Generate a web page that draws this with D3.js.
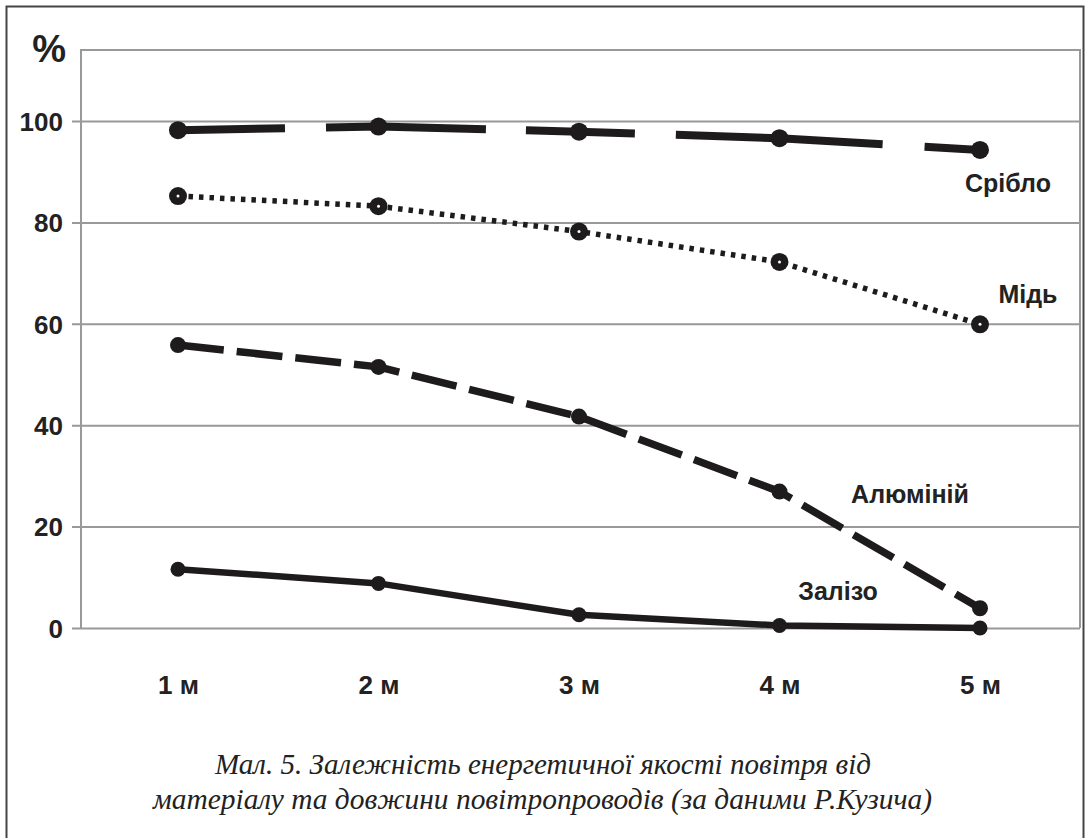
<!DOCTYPE html>
<html>
<head>
<meta charset="utf-8">
<script src="https://cdn.jsdelivr.net/npm/d3@7"></script>
<style>
  html, body { margin: 0; padding: 0; background: #fff; }
  svg { display: block; }
</style>
</head>
<body>
<svg id="chart" width="1086" height="838"></svg>
<script>
// ---- data ----
const categories = ["1 м", "2 м", "3 м", "4 м", "5 м"];
const yTicks = [0, 20, 40, 60, 80, 100];
const seriesNames = ["Срібло", "Мідь", "Алюміній", "Залізо"];
const silver = [98.2, 98.9, 97.9, 96.6, 94.3];
const copper = [85.2, 83.2, 78.2, 72.2, 59.9];
const aluminium = [55.8, 51.5, 41.7, 26.9, 3.9];
const iron = [11.6, 8.8, 2.6, 0.5, 0.0];
const yUnit = "%";
const captionLines = [
  "Мал. 5. Залежність енергетичної якості повітря від",
  "матеріалу та довжини повітропроводів (за даними Р.Кузича)"
];

// ---- layout ----
const svg = d3.select("#chart");
const plot = { left: 81, right: 1080, top: 50, bottom: 628 };
const bold = "'Liberation Sans', Arial, sans-serif";

const x = d3.scalePoint().domain(categories).range([178, 980]);
const y = d3.scaleLinear().domain([0, 100]).range([628, 121]);

// outer frame
svg.append("rect").attr("x", 6.5).attr("y", 6.5).attr("width", 1077).attr("height", 840)
  .attr("fill", "none").attr("stroke", "#444").attr("stroke-width", 2);

// plot frame (top, left, right)
svg.append("path")
  .attr("d", `M${plot.left},${plot.bottom} V${plot.top} H${plot.right} V${plot.bottom}`)
  .attr("fill", "none").attr("stroke", "#999").attr("stroke-width", 2);

// y axis grid + labels
const yAxis = d3.axisLeft(y).tickValues(yTicks)
  .tickSize(-(plot.right - 72)).tickPadding(10).tickFormat(d3.format("d"));
const gy = svg.append("g").attr("transform", `translate(72,0)`).call(yAxis);
gy.select(".domain").remove();
gy.selectAll(".tick line").attr("stroke", "#999").attr("stroke-width", 2);
gy.selectAll(".tick text")
  .attr("x", 63 - 72).attr("dy", "0.36em")
  .attr("fill", "#222").style("font-family", bold).style("font-weight", "bold").style("font-size", "26px");

svg.append("text").attr("x", 66).attr("y", 62).attr("text-anchor", "end")
  .style("font-family", bold).style("font-weight", "bold").style("font-size", "38px")
  .attr("fill", "#222").text(yUnit);

// x axis labels
const xAxis = d3.axisBottom(x).tickSize(0).tickPadding(0);
const gx = svg.append("g").attr("transform", `translate(0,676)`).call(xAxis);
gx.select(".domain").remove();
gx.selectAll(".tick text").attr("dy", "0.71em")
  .attr("fill", "#222").style("font-family", bold).style("font-weight", "bold").style("font-size", "26px");

// series
const series = [
  { name: seriesNames[0], values: silver, width: 8, dash: "107,41,160,40,109,41,207,42,200",
    hollow: false, r: 9, label: [1008, 192] },
  { name: seriesNames[1], values: copper, width: 5.5, dash: "4.5,6", hollow: true, r: 9,
    label: [1028, 303] },
  { name: seriesNames[2], values: aluminium, width: 7.5, dash: "46,13", hollow: false, r: 8,
    label: [910, 503] },
  { name: seriesNames[3], values: iron, width: 6.5, dash: null, hollow: false, r: 7.5,
    label: [838, 600] }
];

const line = d3.line().x((d, i) => x(categories[i])).y(d => y(d));

series.forEach(s => {
  const p = svg.append("path").datum(s.values)
    .attr("d", line).attr("fill", "none").attr("stroke", "#1e1b1c")
    .attr("stroke-width", s.width).attr("stroke-linecap", s.dash ? "butt" : "round")
    .attr("stroke-linejoin", "round");
  if (s.dash) p.attr("stroke-dasharray", s.dash);

  const g = svg.append("g");
  g.selectAll("circle.m").data(s.values).join("circle").attr("class", "m")
    .attr("cx", (d, i) => x(categories[i])).attr("cy", d => y(d))
    .attr("r", s.r).attr("fill", "#1e1b1c");
  if (s.hollow) {
    g.selectAll("circle.h").data(s.values).join("circle").attr("class", "h")
      .attr("cx", (d, i) => x(categories[i])).attr("cy", d => y(d))
      .attr("r", 1.5).attr("fill", "#fff");
  }

  svg.append("text").attr("x", s.label[0]).attr("y", s.label[1]).attr("text-anchor", "middle")
    .attr("fill", "#222").style("font-family", bold).style("font-weight", "bold").style("font-size", "25px")
    .text(s.name);
});

// caption
const capPos = [[215, 774, 656], [153, 809, 779]];
captionLines.forEach((t, i) => {
  svg.append("text").attr("x", capPos[i][0]).attr("y", capPos[i][1])
    .attr("textLength", capPos[i][2]).attr("lengthAdjust", "spacingAndGlyphs")
    .attr("fill", "#222")
    .style("font-family", "'Liberation Serif', 'DejaVu Serif', serif")
    .style("font-style", "italic").style("font-size", "29px")
    .text(t);
});
</script>
</body>
</html>
